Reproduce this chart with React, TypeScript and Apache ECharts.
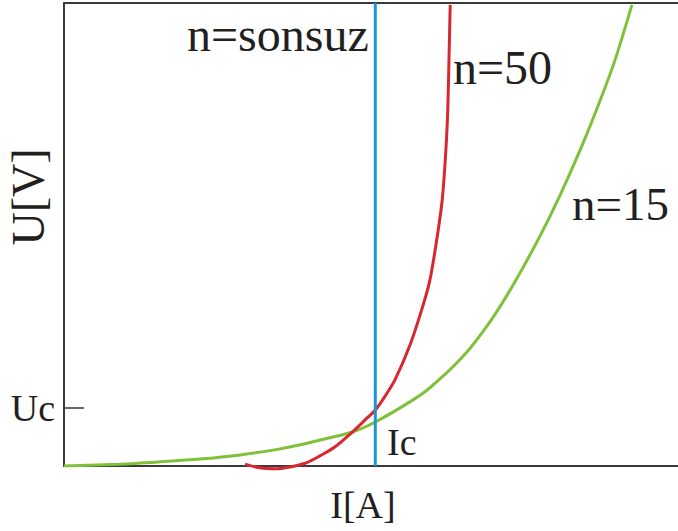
import React, { useEffect, useRef } from "react";
import * as echarts from "echarts";

// Current (I) and voltage (U) in arbitrary units, 0..100 on both axes.
const curveN15: [number, number][] = [
  [0, 0], [9.1, 0.4], [15.6, 0.9], [22.1, 1.5], [28.7, 2.4], [35.2, 3.7],
  [41.7, 5.6], [47.1, 7.4], [50.7, 9.5], [56.4, 13.9], [59.6, 16.9],
  [65.0, 23.7], [69.4, 31.2], [73.1, 39.0], [77.5, 49.6], [80.8, 58.5],
  [84.4, 69.3], [87.3, 78.9], [89.7, 87.5], [92.5, 99.6],
];

const curveN50: [number, number][] = [
  [29.5, 0.4], [31.9, -0.4], [34.4, -0.6], [36.8, -0.2], [39.3, 0.6],
  [41.7, 2.2], [44.1, 4.1], [46.6, 6.9], [49.0, 9.9], [50.7, 12.1],
  [52.3, 15.1], [53.9, 18.6], [56.4, 26.3], [58.5, 34.8], [59.6, 40.2],
  [60.7, 48.8], [61.6, 57.5], [62.2, 68.3], [62.5, 76.9], [62.7, 87.7],
  [62.9, 99.6],
];

const criticalCurrent = 50.7; // Ic
const criticalVoltage = 12.5; // Uc

const curveInfinite: [number, number][] = [
  [criticalCurrent, 0],
  [criticalCurrent, 100],
];

const SERIF = "Liberation Serif";
const INK = "#231f20";
const FRAME = "#3a3a3a";

export default function App() {
  const ref = useRef<HTMLDivElement>(null);

  useEffect(() => {
    if (!ref.current) return;
    const chart = echarts.init(ref.current, undefined, { renderer: "svg" });

    const label = (text: string, x: number, y: number, size: number, align = "left", rotation = 0) => ({
      type: "text",
      x,
      y,
      rotation,
      silent: true,
      z: 10,
      style: {
        text,
        fill: INK,
        fontFamily: SERIF,
        fontSize: size,
        textAlign: align,
        textVerticalAlign: "middle",
      },
    });

    chart.setOption({
      animation: false,
      backgroundColor: "#ffffff",
      grid: { left: 64, top: 3, right: 0, bottom: 65, containLabel: false },
      xAxis: [
        {
          type: "value",
          min: 0,
          max: 100,
          position: "bottom",
          axisLine: { show: true, lineStyle: { color: FRAME, width: 2 } },
          axisTick: { show: false },
          axisLabel: { show: false },
          splitLine: { show: false },
        },
        {
          type: "value",
          min: 0,
          max: 100,
          position: "top",
          axisLine: { show: true, onZero: false, lineStyle: { color: FRAME, width: 2 } },
          axisTick: { show: false },
          axisLabel: { show: false },
          splitLine: { show: false },
        },
      ],
      yAxis: {
        type: "value",
        min: 0,
        max: 100,
        axisLine: { show: true, lineStyle: { color: FRAME, width: 2 } },
        axisTick: {
          show: true,
          inside: true,
          length: 20,
          customValues: [criticalVoltage],
          lineStyle: { color: FRAME, width: 1.5 },
        },
        axisLabel: {
          show: true,
          customValues: [criticalVoltage],
          formatter: () => "Uc",
          margin: 9,
          fontFamily: SERIF,
          fontSize: 38,
          color: INK,
          padding: [0, 0, 6, 0],
        },
        splitLine: { show: false },
      },
      series: [
        {
          name: "n=15",
          type: "line",
          data: curveN15,
          smooth: 0.3,
          showSymbol: false,
          lineStyle: { color: "#7fc23a", width: 3 },
          z: 3,
        },
        {
          name: "n=50",
          type: "line",
          data: curveN50,
          smooth: 0.3,
          showSymbol: false,
          clip: false,
          lineStyle: { color: "#d7282f", width: 3 },
          z: 4,
        },
        {
          name: "n=sonsuz",
          type: "line",
          data: curveInfinite,
          showSymbol: false,
          lineStyle: { color: "#1a96d6", width: 3 },
          z: 5,
        },
      ],
      graphic: [
        label("n=sonsuz", 187, 34, 48),
        label("n=50", 453, 67, 48),
        label("n=15", 572, 204, 47),
        label("Ic", 387, 442, 38),
        label("I[A]", 363, 505, 38, "center"),
        label("U[V]", 28, 197, 46, "center", Math.PI / 2),
      ],
    });

    return () => chart.dispose();
  }, []);

  return (
    <div
      ref={ref}
      style={{ position: "fixed", left: 0, top: 0, width: 678, height: 531, background: "#fff" }}
    />
  );
}
